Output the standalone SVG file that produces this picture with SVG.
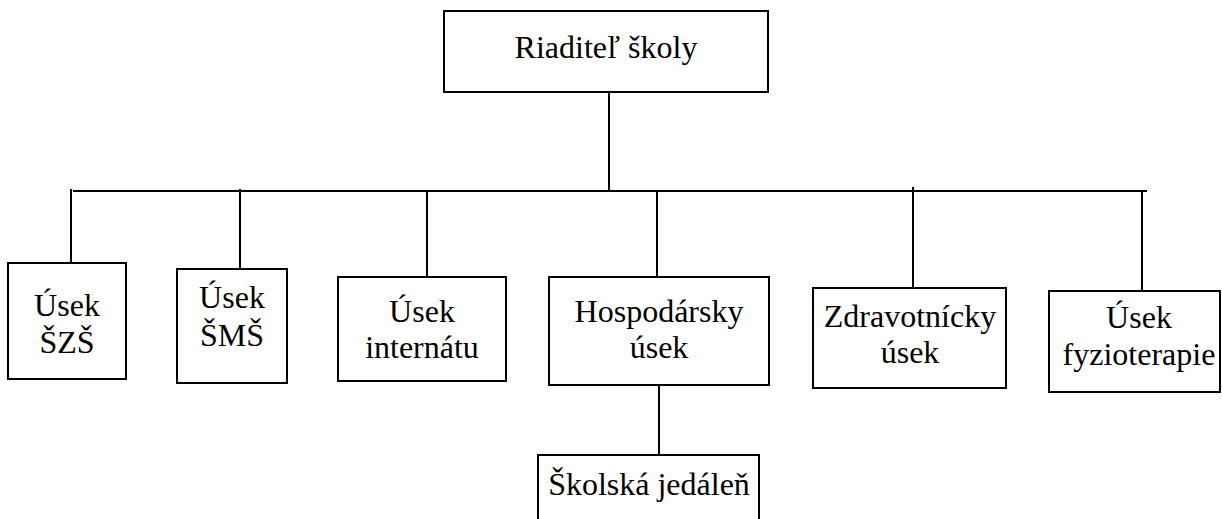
<svg xmlns="http://www.w3.org/2000/svg" width="1222" height="519" viewBox="0 0 1222 519">
<style>
.box{fill:#fff;stroke:#000;stroke-width:2}
.ln{stroke:#000;stroke-width:2;fill:none}
text{font-family:"Liberation Serif","Times New Roman",serif;font-size:32px;fill:#000;text-anchor:middle}
</style>
<rect width="1222" height="519" fill="#fff"/>
<g id="connectors">
<line class="ln" x1="609" y1="92" x2="609" y2="191"/>
<line class="ln" x1="73" y1="191" x2="1147" y2="191"/>
<line class="ln" x1="71" y1="189" x2="71" y2="263"/>
<line class="ln" x1="240" y1="189" x2="240" y2="269"/>
<line class="ln" x1="427" y1="190" x2="427" y2="277"/>
<line class="ln" x1="657" y1="190" x2="657" y2="277"/>
<line class="ln" x1="913" y1="187" x2="913" y2="288"/>
<line class="ln" x1="1142" y1="191" x2="1142" y2="291"/>
<line class="ln" x1="659" y1="385" x2="659" y2="455"/>
</g>
<g id="riaditel">
<rect class="box" x="444" y="11" width="324" height="81"/>
<text x="606" y="58">Riaditeľ školy</text>
</g>
<g id="szs">
<rect class="box" x="8" y="263" width="118" height="116"/>
<text x="67" y="316">Úsek</text>
<text x="67" y="353">ŠZŠ</text>
</g>
<g id="sms">
<rect class="box" x="177" y="269" width="110" height="114"/>
<text x="232" y="308">Úsek</text>
<text x="232" y="346">ŠMŠ</text>
</g>
<g id="internat">
<rect class="box" x="338" y="277" width="168" height="104"/>
<text x="422" y="322">Úsek</text>
<text x="422" y="358">internátu</text>
</g>
<g id="hospodarsky">
<rect class="box" x="549" y="277" width="220" height="108"/>
<text x="659" y="322">Hospodársky</text>
<text x="659" y="358">úsek</text>
</g>
<g id="zdravotnicky">
<rect class="box" x="813" y="288" width="193" height="100"/>
<text x="910" y="327">Zdravotnícky</text>
<text x="910" y="363">úsek</text>
</g>
<g id="fyzioterapia">
<rect class="box" x="1049" y="291" width="171" height="101"/>
<text x="1139" y="328">Úsek</text>
<text x="1139" y="365">fyzioterapie</text>
</g>
<g id="jedalen">
<rect class="box" x="538" y="455" width="221" height="80"/>
<text x="649" y="495">Školská jedáleň</text>
</g>
</svg>
